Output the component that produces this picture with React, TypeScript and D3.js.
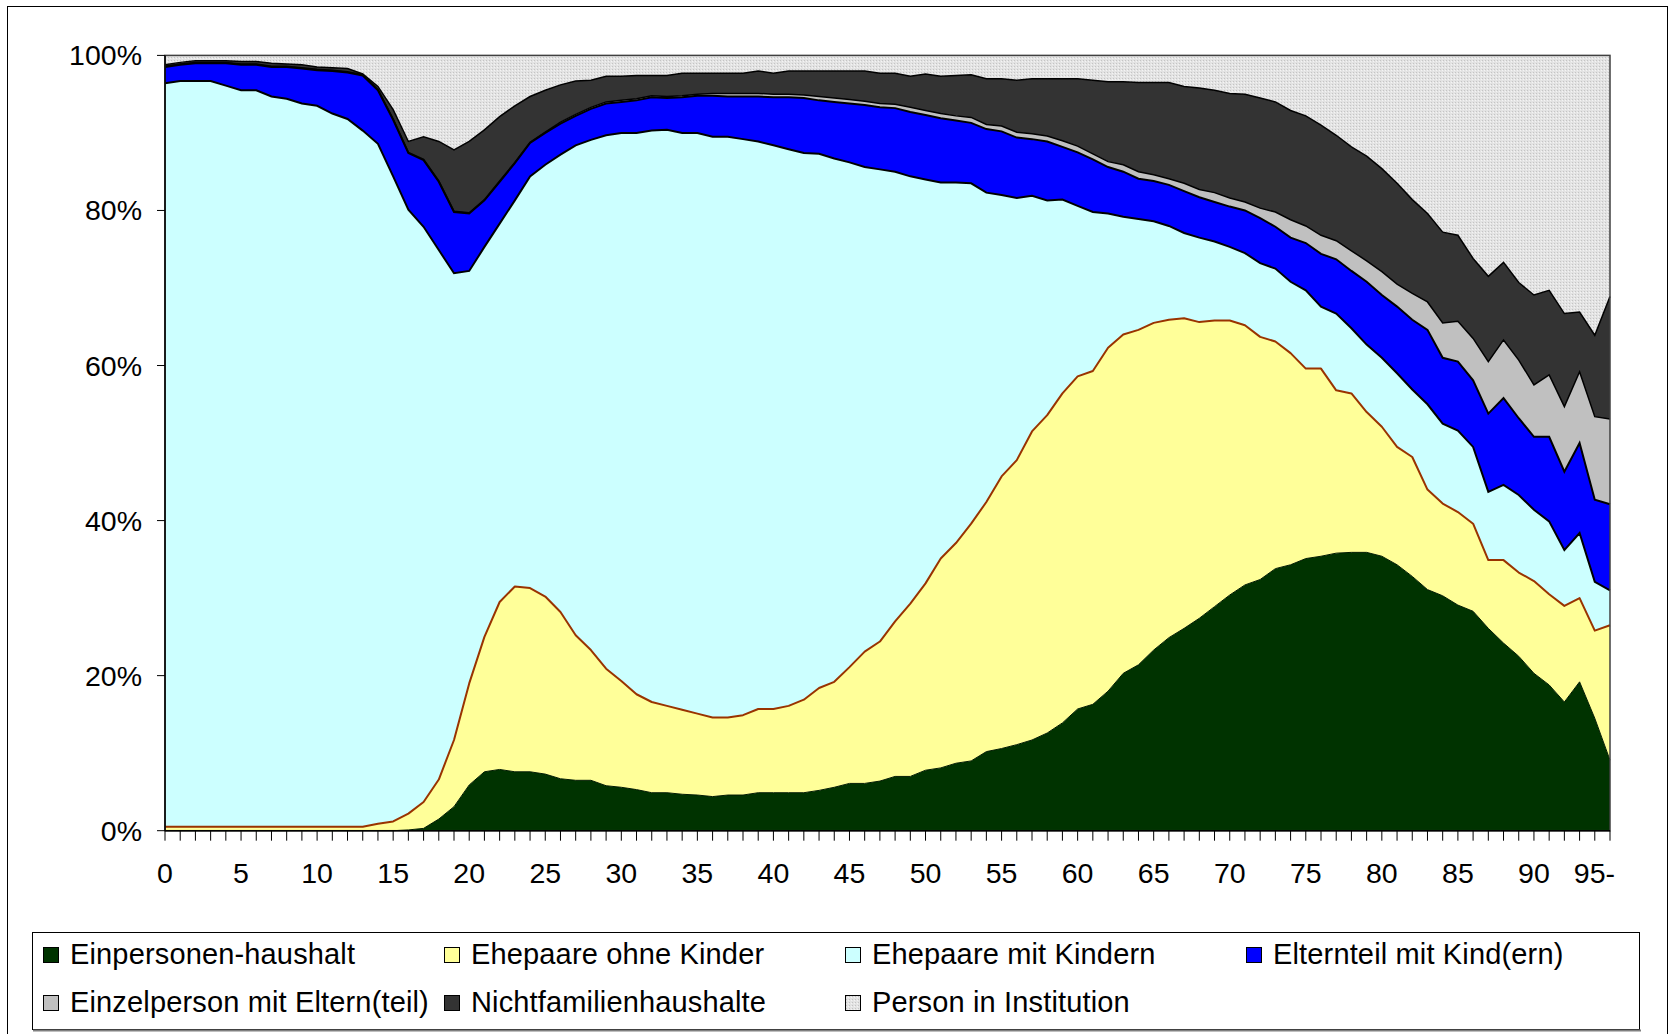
import React from "react";
import * as d3 from "d3";

// ---- data (percent shares per age) ----
const categories: string[] = d3.range(96).map((i) => (i === 95 ? "95-" : String(i)));
const tickLabels = ["0", "5", "10", "15", "20", "25", "30", "35", "40", "45", "50", "55", "60", "65", "70", "75", "80", "85", "90", "95-"];
const yTicks = [0, 0.2, 0.4, 0.6, 0.8, 1.0];

const einpersonen = [0, 0, 0, 0, 0, 0, 0, 0, 0, 0, 0, 0, 0, 0, 0, 0, 0.1, 0.3, 1.5, 3.1, 5.9, 7.6, 7.9, 7.6, 7.6, 7.3, 6.7, 6.5, 6.5, 5.8, 5.6, 5.3, 4.9, 4.9, 4.7, 4.6, 4.4, 4.6, 4.6, 4.9, 4.9, 4.9, 4.9, 5.2, 5.6, 6.1, 6.1, 6.4, 7.0, 7.0, 7.8, 8.1, 8.7, 9.0, 10.2, 10.6, 11.1, 11.7, 12.6, 13.9, 15.7, 16.3, 18.0, 20.3, 21.4, 23.3, 24.9, 26.1, 27.4, 28.9, 30.4, 31.7, 32.4, 33.8, 34.3, 35.1, 35.4, 35.8, 35.9, 35.9, 35.4, 34.3, 32.8, 31.1, 30.3, 29.1, 28.3, 26.1, 24.2, 22.5, 20.3, 18.8, 16.6, 19.2, 14.5, 9.1];
const ehepaareOhneKinder = [0.5, 0.5, 0.5, 0.5, 0.5, 0.5, 0.5, 0.5, 0.5, 0.5, 0.5, 0.5, 0.5, 0.5, 0.9, 1.2, 2.1, 3.4, 5.1, 8.6, 13.1, 17.4, 21.6, 23.9, 23.7, 22.9, 21.5, 18.7, 16.8, 15.1, 13.7, 12.3, 11.7, 11.2, 10.9, 10.5, 10.2, 10.0, 10.3, 10.8, 10.8, 11.2, 12.0, 13.2, 13.6, 15.0, 17.0, 18.0, 20.0, 22.3, 24.1, 27.0, 28.4, 30.6, 32.2, 35.1, 36.7, 39.8, 41.0, 42.5, 42.9, 43.0, 44.3, 43.7, 43.2, 42.2, 41.0, 40.0, 38.2, 36.9, 35.4, 33.5, 31.3, 29.3, 27.3, 24.5, 24.2, 21.0, 20.5, 18.1, 16.7, 15.2, 15.4, 12.9, 11.9, 12.0, 11.3, 8.8, 10.7, 10.8, 11.9, 11.7, 12.4, 10.8, 11.3, 17.4];
const ehepaareMitKindern = [95.9, 96.2, 96.2, 96.2, 95.6, 95.0, 95.0, 94.2, 93.9, 93.3, 93.0, 92.0, 91.3, 89.8, 87.7, 83.2, 77.9, 74.2, 68.3, 60.2, 53.2, 50.3, 48.8, 49.8, 53.1, 55.7, 59.0, 63.2, 65.8, 68.8, 70.7, 72.4, 73.7, 74.3, 74.4, 74.9, 74.9, 74.9, 74.3, 73.2, 72.7, 71.8, 70.5, 68.9, 67.5, 65.1, 62.5, 60.9, 58.0, 55.1, 52.1, 48.5, 46.5, 43.9, 39.9, 36.3, 33.8, 30.4, 27.7, 25.0, 22.0, 20.5, 17.3, 15.2, 14.3, 13.1, 12.1, 11.0, 10.9, 10.2, 9.5, 9.3, 9.5, 9.4, 9.2, 10.1, 8.0, 9.9, 8.4, 8.7, 8.9, 9.5, 8.7, 11.0, 10.3, 10.5, 9.9, 8.8, 9.7, 10.0, 9.2, 9.4, 7.2, 8.4, 6.3, 4.5];
const elternteilMitKind = [2.1, 2.1, 2.3, 2.3, 2.9, 3.3, 3.3, 3.8, 4.1, 4.5, 4.6, 5.5, 6.0, 7.1, 6.9, 7.3, 7.3, 8.6, 8.8, 7.9, 7.4, 6.0, 5.4, 4.8, 4.3, 4.1, 4.0, 3.8, 4.0, 4.1, 4.0, 4.2, 4.3, 4.1, 4.6, 4.8, 5.3, 5.2, 5.5, 5.8, 6.2, 6.7, 7.1, 6.9, 7.3, 7.6, 8.0, 8.0, 8.2, 8.3, 8.3, 8.3, 8.0, 7.8, 8.2, 8.2, 7.8, 7.3, 7.6, 6.8, 6.9, 6.8, 6.0, 5.8, 5.2, 5.2, 5.3, 5.4, 5.2, 5.1, 5.2, 5.5, 5.8, 5.4, 5.7, 6.1, 6.8, 7.0, 7.4, 8.1, 8.1, 8.6, 9.0, 9.6, 8.5, 8.9, 8.6, 10.1, 11.2, 9.9, 9.4, 10.9, 10.1, 11.6, 10.6, 11.1];
const einzelpersonMitEltern = [0.1, 0.1, 0.1, 0.1, 0.1, 0.1, 0.1, 0.1, 0.1, 0.1, 0.1, 0.1, 0.1, 0.1, 0.1, 0.1, 0.1, 0.1, 0.1, 0.1, 0.1, 0.1, 0.1, 0.1, 0.1, 0.1, 0.2, 0.2, 0.2, 0.2, 0.2, 0.2, 0.2, 0.2, 0.2, 0.2, 0.3, 0.4, 0.4, 0.4, 0.4, 0.4, 0.4, 0.5, 0.5, 0.5, 0.5, 0.5, 0.5, 0.6, 0.6, 0.6, 0.6, 0.7, 0.6, 0.7, 0.7, 0.7, 0.7, 0.8, 0.8, 0.7, 0.7, 0.9, 0.9, 0.8, 0.8, 1.0, 1.0, 1.2, 1.1, 1.1, 1.3, 1.9, 2.3, 2.2, 2.4, 2.4, 2.6, 2.7, 3.0, 2.9, 3.4, 3.6, 4.5, 5.2, 5.4, 6.7, 7.5, 7.5, 6.7, 8.0, 8.4, 9.2, 10.7, 11.0];
const nichtfamilienhaushalte = [0.2, 0.2, 0.2, 0.2, 0.2, 0.3, 0.3, 0.4, 0.3, 0.4, 0.3, 0.3, 0.4, 0.1, 0.4, 1.2, 1.4, 2.9, 5.1, 7.9, 9.2, 9.0, 8.3, 7.3, 5.9, 5.4, 4.8, 4.3, 3.5, 3.3, 3.1, 3.0, 2.6, 2.7, 2.9, 2.7, 2.6, 2.6, 2.6, 2.9, 2.7, 3.0, 3.1, 3.3, 3.5, 3.7, 3.9, 3.9, 4.0, 4.0, 4.7, 4.8, 5.2, 5.5, 5.9, 6.1, 6.7, 7.1, 7.4, 8.0, 8.7, 9.5, 10.3, 10.7, 11.5, 11.9, 12.4, 12.5, 13.1, 13.2, 13.5, 13.9, 14.2, 14.2, 14.1, 14.2, 14.2, 13.6, 13.4, 13.5, 13.3, 13.0, 12.1, 11.4, 11.7, 11.1, 10.3, 11.0, 10.0, 10.0, 11.6, 10.9, 12.0, 7.7, 10.5, 15.8];
const personInInstitution = [1.2, 0.9, 0.7, 0.7, 0.7, 0.8, 0.8, 1.0, 1.1, 1.2, 1.5, 1.6, 1.7, 2.4, 4.0, 7.0, 11.1, 10.5, 11.1, 12.2, 11.1, 9.6, 7.9, 6.5, 5.3, 4.5, 3.8, 3.3, 3.2, 2.7, 2.7, 2.6, 2.6, 2.6, 2.3, 2.3, 2.3, 2.3, 2.3, 2.0, 2.3, 2.0, 2.0, 2.0, 2.0, 2.0, 2.0, 2.3, 2.3, 2.7, 2.4, 2.7, 2.6, 2.5, 3.0, 3.0, 3.2, 3.0, 3.0, 3.0, 3.0, 3.2, 3.4, 3.4, 3.5, 3.5, 3.5, 4.0, 4.2, 4.5, 4.9, 5.0, 5.5, 6.0, 7.1, 7.8, 9.0, 10.3, 11.8, 13.0, 14.6, 16.5, 18.6, 20.4, 22.8, 23.2, 26.2, 28.5, 26.7, 29.3, 30.9, 30.3, 33.3, 33.1, 36.1, 31.1];

const seriesNames = [
  "Einpersonen-haushalt",
  "Ehepaare ohne Kinder",
  "Ehepaare mit Kindern",
  "Elternteil mit Kind(ern)",
  "Einzelperson mit Eltern(teil)",
  "Nichtfamilienhaushalte",
  "Person in Institution",
];
const seriesValues = [
  einpersonen,
  ehepaareOhneKinder,
  ehepaareMitKindern,
  elternteilMitKind,
  einzelpersonMitEltern,
  nichtfamilienhaushalte,
  personInInstitution,
];

// ---- styles ----
const FILLS = ["#003300", "#FFFF99", "#CCFFFF", "#0000FF", "#C0C0C0", "#333333", "url(#instPattern)"];
const FONT = "'Liberation Sans', Arial, Helvetica, sans-serif";
const W = 1670;
const H = 1034;
const PL = 165, PR = 1610, PT = 55.4, PB = 830.7;

type Row = { cat: string; [k: string]: number | string };

export default function App() {
  const rows: Row[] = categories.map((cat, i) => {
    const r: Row = { cat };
    seriesNames.forEach((name, s) => (r[name] = seriesValues[s][i]));
    return r;
  });

  const stack = d3
    .stack<Row>()
    .keys(seriesNames)
    .value((d, k) => d[k] as number)
    .order(d3.stackOrderNone)
    .offset(d3.stackOffsetExpand);
  const stacked = stack(rows);

  const x = d3.scalePoint<string>().domain(categories).range([PL, PR]);
  const y = d3.scaleLinear().domain([0, 1]).range([PB, PT]);

  const area = d3
    .area<d3.SeriesPoint<Row>>()
    .x((d) => x(d.data.cat as string)!)
    .y0((d) => y(d[0]))
    .y1((d) => y(d[1]));
  const topLine = d3
    .line<d3.SeriesPoint<Row>>()
    .x((d) => x(d.data.cat as string)!)
    .y((d) => y(d[1]));
  const bottomLine = d3
    .line<d3.SeriesPoint<Row>>()
    .x((d) => x(d.data.cat as string)!)
    .y((d) => y(d[0]));

  const legendCols = [70, 471, 872, 1273];
  const legendRows = [964, 1012];

  return (
    <svg
      width={W}
      height={H}
      style={{ position: "absolute", left: 0, top: 0, display: "block", background: "#fff" }}
      fontFamily={FONT}
    >
      <defs>
        <pattern id="instPattern" width="3" height="3" patternUnits="userSpaceOnUse">
          <rect width="3" height="3" fill="#e3e3e3" />
          <rect x="0" y="0" width="1" height="1" fill="#c4c4c4" />
          <rect x="2" y="1" width="1" height="1" fill="#f4f4f4" />
        </pattern>
      </defs>
      <rect x={0} y={0} width={W} height={H} fill="#fff" />
      {/* outer chart border */}
      <rect x={7.5} y={6.5} width={1660} height={1040} fill="none" stroke="#000" strokeWidth={1} />

      {/* areas */}
      {stacked.map((s, i) => (
        <path key={s.key} d={area(s)!} fill={FILLS[i]} stroke="none" />
      ))}
      {/* series borders */}
      <path d={topLine(stacked[0])!} fill="none" stroke="#001a00" strokeWidth={1} />
      <path d={topLine(stacked[1])!} fill="none" stroke="#993300" strokeWidth={2} strokeLinejoin="round" />
      <path d={bottomLine(stacked[3])!} fill="none" stroke="#000" strokeWidth={2} />
      <path d={topLine(stacked[3])!} fill="none" stroke="#000" strokeWidth={2} />
      <path d={topLine(stacked[4])!} fill="none" stroke="#000" strokeWidth={1.5} />
      <path d={topLine(stacked[5])!} fill="none" stroke="#000" strokeWidth={1.5} />

      {/* plot border */}
      <rect x={PL} y={PT} width={PR - PL} height={PB - PT} fill="none" stroke="#404040" strokeWidth={1.5} />
      {/* axes */}
      <line x1={PL} x2={PL} y1={PT} y2={PB} stroke="#000" strokeWidth={1.5} />
      <line x1={PL} x2={PR} y1={PB} y2={PB} stroke="#000" strokeWidth={1.5} />
      {yTicks.map((t) => (
        <g key={t}>
          <line x1={157} x2={PL} y1={y(t)} y2={y(t)} stroke="#000" strokeWidth={1} />
          <text x={142} y={y(t) + 10} textAnchor="end" fontSize={28.5} fill="#000">
            {`${Math.round(t * 100)}%`}
          </text>
        </g>
      ))}
      {categories.map((c) => (
        <line key={c} x1={x(c)!} x2={x(c)!} y1={PB} y2={PB + 10} stroke="#000" strokeWidth={1} />
      ))}
      {tickLabels.map((lab, i) => {
        const last = i === tickLabels.length - 1;
        const xx = x(lab)!;
        return (
          <text key={lab} x={last ? xx + 5 : xx} y={882.5} textAnchor={last ? "end" : "middle"} fontSize={28.5} fill="#000">
            {lab}
          </text>
        );
      })}

      {/* legend */}
      <rect x={32.5} y={932.5} width={1607} height={97} fill="#fff" stroke="#000" strokeWidth={1} />
      <line x1={33} x2={1641} y1={1030.5} y2={1030.5} stroke="#808080" strokeWidth={2} />
      {seriesNames.map((name, i) => {
        const col = i % 4;
        const row = Math.floor(i / 4);
        const tx = legendCols[col];
        const ty = legendRows[row];
        return (
          <g key={name}>
            <rect x={tx - 26.5} y={ty - 16.5} width={15} height={15} fill={FILLS[i]} stroke="#000" strokeWidth={1} />
            <text x={tx} y={ty} fontSize={29} letterSpacing={0.15} fill="#000">
              {name}
            </text>
          </g>
        );
      })}
    </svg>
  );
}
